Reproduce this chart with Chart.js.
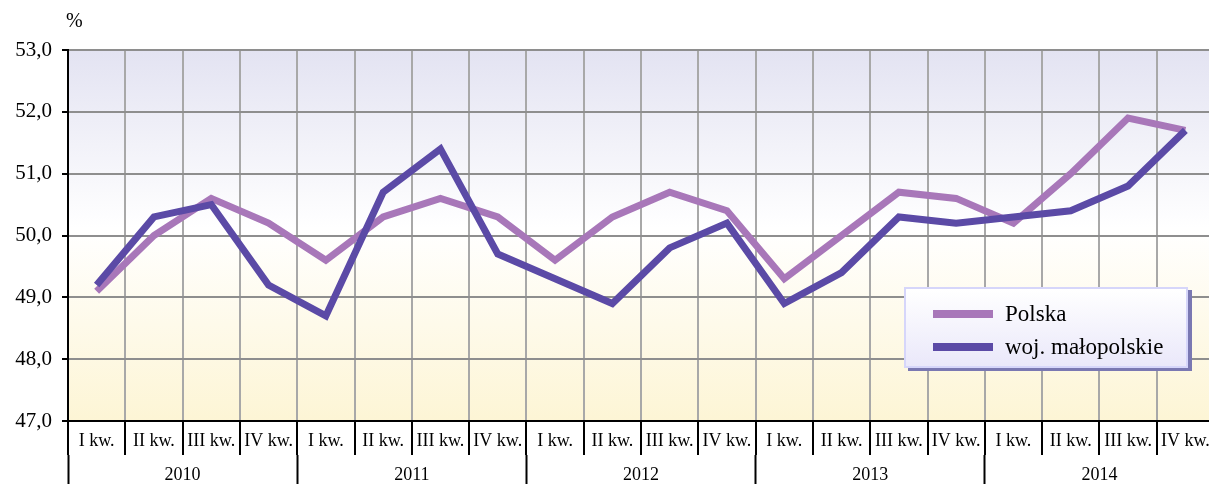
<!DOCTYPE html>
<html>
<head>
<meta charset="utf-8">
<script src="https://cdn.jsdelivr.net/npm/chart.js@4/dist/chart.umd.min.js"></script>
<style>
  html, body { margin: 0; padding: 0; overflow: hidden; background: #fff; }
  #wrap { position: relative; width: 1209px; height: 484px; overflow: hidden; }
  #legend {
    position: absolute; left: 904px; top: 287px; width: 280px; height: 77px;
    border: 2px solid #d6d6fa; background: linear-gradient(#ffffff, #eae8fa);
    box-shadow: 4px 3px 0 #7a78b2;
    font-family: "Liberation Serif", serif; font-size: 23px; color: #000;
  }
  .item { position: absolute; left: 27px; display: flex; align-items: center; height: 26px; }
  .swatch { width: 60px; height: 8px; margin-right: 12px; }
</style>
</head>
<body>
<div id="wrap">
  <canvas id="chart" width="1216" height="484"></canvas>
  <div id="legend"></div>
</div>
<script>
const quarters = ['I kw.', 'II kw.', 'III kw.', 'IV kw.'];
const years = ['2010', '2011', '2012', '2013', '2014'];
const labels = years.flatMap(() => quarters);

const polska = [49.1, 50.0, 50.6, 50.2, 49.6, 50.3, 50.6, 50.3, 49.6, 50.3,
                50.7, 50.4, 49.3, 50.0, 50.7, 50.6, 50.2, 51.0, 51.9, 51.7];
const malopolskie = [49.2, 50.3, 50.5, 49.2, 48.7, 50.7, 51.4, 49.7, 49.3, 48.9,
                     49.8, 50.2, 48.9, 49.4, 50.3, 50.2, 50.3, 50.4, 50.8, 51.7];

const serif = '"Liberation Serif", "Times New Roman", serif';

// gradient behind the plot, "%" above the y axis
const bgPlugin = {
  id: 'bg',
  beforeDraw(chart) {
    const { ctx, chartArea: a } = chart;
    const g = ctx.createLinearGradient(0, a.top, 0, a.bottom);
    g.addColorStop(0, '#e3e3f2');
    g.addColorStop(0.48, '#ffffff');
    g.addColorStop(1, '#fdf5d5');
    ctx.save();
    ctx.fillStyle = g;
    ctx.fillRect(a.left, a.top, a.right - a.left, a.bottom - a.top);
    ctx.restore();
  },
  afterDraw(chart) {
    const { ctx, chartArea: a } = chart;
    ctx.save();
    ctx.font = '20px ' + serif;
    ctx.fillStyle = '#000';
    ctx.textBaseline = 'middle';
    ctx.fillText('%', a.left - 2, 22);
    ctx.restore();
  }
};

const chart = new Chart(document.getElementById('chart'), {
  type: 'line',
  data: {
    labels: labels,
    datasets: [
      { label: 'Polska', data: polska, borderColor: '#a877b9', borderWidth: 7, order: 1,
        pointRadius: 0, tension: 0, borderJoinStyle: 'miter', borderCapStyle: 'butt' },
      { label: 'woj. małopolskie', data: malopolskie, borderColor: '#5b4aa6', borderWidth: 7, order: 0,
        pointRadius: 0, tension: 0, borderJoinStyle: 'miter', borderCapStyle: 'butt' }
    ]
  },
  options: {
    responsive: false,
    animation: false,
    layout: { padding: { top: 50, right: 2, left: 0, bottom: 0 } },
    plugins: { legend: { display: false }, tooltip: { enabled: false } },
    scales: {
      x: {
        offset: true,
        grid: { offset: true, color: '#a8a8a8', lineWidth: 2, tickColor: '#000', tickLength: 34, tickWidth: 2 },
        border: { color: '#000', width: 2 },
        ticks: { autoSkip: false, maxRotation: 0, padding: -25, color: '#000', font: { family: serif, size: 18 } },
        afterFit: s => { s.height = 34; }
      },
      x2: {
        type: 'category',
        position: 'bottom',
        labels: years,
        offset: true,
        grid: { offset: true, drawOnChartArea: false, tickColor: '#000', tickLength: 29, tickWidth: 2 },
        border: { display: false },
        ticks: { autoSkip: false, maxRotation: 0, padding: -20, color: '#000', font: { family: serif, size: 18 } },
        afterFit: s => { s.height = 29; }
      },
      y: {
        min: 47, max: 53,
        grid: { color: '#8e8e8e', lineWidth: 2, tickColor: '#000', tickLength: 6, tickWidth: 2 },
        border: { color: '#000', width: 2 },
        ticks: { stepSize: 1, padding: 10, color: '#000', font: { family: serif, size: 21 },
                 callback: v => v.toFixed(1).replace('.', ',') },
        afterFit: s => { s.width = 68; }
      }
    }
  },
  plugins: [bgPlugin]
});

// legend built from the datasets
const legend = document.getElementById('legend');
chart.data.datasets.forEach((ds, i) => {
  const item = document.createElement('div');
  item.className = 'item';
  item.style.top = (12 + i * 33) + 'px';
  item.innerHTML = '<span class="swatch" style="background:' + ds.borderColor + '"></span>' + ds.label;
  legend.appendChild(item);
});
</script>
</body>
</html>
